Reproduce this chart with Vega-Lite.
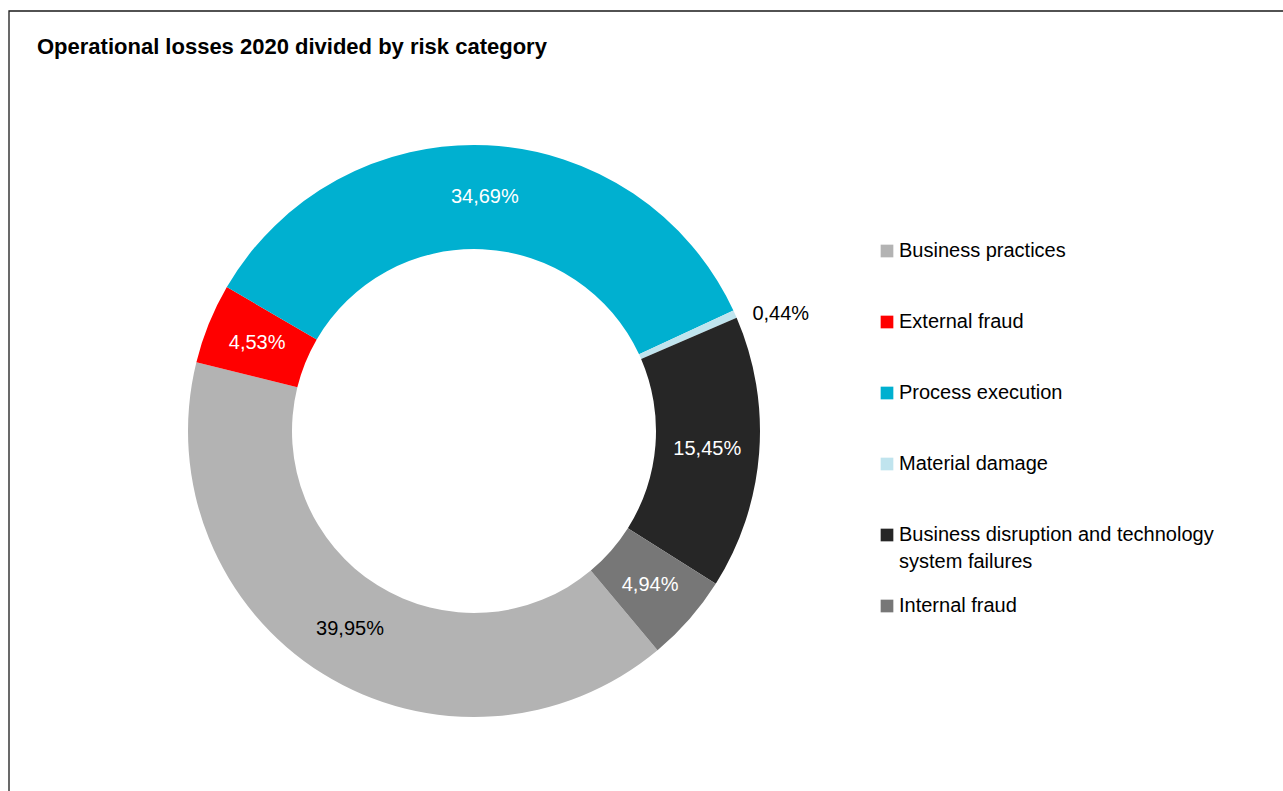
{
  "$schema": "https://vega.github.io/schema/vega-lite/v6.json",
  "width": 1280,
  "height": 800,
  "autosize": {"type": "none"},
  "padding": {"left": 9, "top": 11, "right": 0, "bottom": 0},
  "background": "white",
  "title": {
    "text": "Operational losses 2020 divided by risk category",
    "anchor": "start",
    "frame": "group",
    "font": "Liberation Sans, Arial, sans-serif",
    "fontSize": 22,
    "fontWeight": "bold",
    "color": "#000000",
    "baseline": "middle",
    "offset": -59,
    "dx": 28
  },
  "data": {
    "values": [
      {"category": "Business practices", "share": 39.95, "rank": 1},
      {"category": "External fraud", "share": 4.53, "rank": 2},
      {"category": "Process execution", "share": 34.69, "rank": 3},
      {"category": "Material damage", "share": 0.44, "rank": 4},
      {"category": "Business disruption and technology system failures", "share": 15.45, "rank": 5},
      {"category": "Internal fraud", "share": 4.94, "rank": 6}
    ]
  },
  "layer": [
    {
      "data": {"values": [{"frame": 1}]},
      "mark": {"type": "rect", "x": 0, "y": 0, "x2": 1300, "y2": 900, "fill": null, "stroke": "#1a1a1a", "strokeWidth": 1.3},
      "encoding": {}
    },
    {
      "mark": {"type": "arc", "x": 465, "y": 420, "radius": 286, "radius2": 182, "stroke": null},
      "encoding": {
        "theta": {"field": "share", "type": "quantitative", "stack": true, "scale": {"range": [2.445, 8.728]}},
        "order": {"field": "rank", "type": "quantitative"},
        "color": {
          "field": "category",
          "type": "nominal",
          "sort": null,
          "scale": {
            "domain": ["Business practices", "External fraud", "Process execution", "Material damage", "Business disruption and technology system failures", "Internal fraud"],
            "range": ["#b3b3b3", "#ff0000", "#00b0d0", "#c0e4ee", "#262626", "#777777"]
          },
          "legend": {
            "orient": "none",
            "legendX": 868,
            "legendY": 230,
            "title": null,
            "padding": 0,
            "symbolType": "square",
            "symbolSize": 161,
            "symbolStrokeWidth": 0,
            "labelFont": "Liberation Sans, Arial, sans-serif",
            "labelFontSize": 20,
            "labelColor": "#000000",
            "labelOffset": 2,
            "labelLimit": 500,
            "rowPadding": 24,
            "labelExpr": "datum.label === 'Business disruption and technology system failures' ? ['Business disruption and technology', 'system failures'] : [datum.label, ' ']"
          }
        }
      }
    },
    {
      "transform": [{"calculate": "replace(format(datum.share, '.2f'), '.', ',') + '%'", "as": "label"}],
      "mark": {"type": "text", "x": 465, "y": 420, "radius": 234, "align": "center", "baseline": "middle", "font": "Liberation Sans, Arial, sans-serif", "fontSize": 20},
      "encoding": {
        "theta": {"field": "share", "type": "quantitative", "stack": true, "scale": {"range": [2.445, 8.728]}},
        "order": {"field": "rank", "type": "quantitative"},
        "text": {"condition": {"test": "datum.share >= 1", "field": "label"}, "value": ""},
        "color": {"condition": {"test": "datum.category === 'Business practices'", "value": "#000000"}, "value": "#ffffff"}
      }
    },
    {
      "transform": [{"calculate": "replace(format(datum.share, '.2f'), '.', ',') + '%'", "as": "label"}],
      "mark": {"type": "text", "x": 465, "y": 420, "radius": 305, "align": "left", "baseline": "middle", "dy": 8, "font": "Liberation Sans, Arial, sans-serif", "fontSize": 20, "color": "#000000"},
      "encoding": {
        "theta": {"field": "share", "type": "quantitative", "stack": true, "scale": {"range": [2.445, 8.728]}},
        "order": {"field": "rank", "type": "quantitative"},
        "text": {"condition": {"test": "datum.share < 1", "field": "label"}, "value": ""}
      }
    }
  ],
  "config": {
    "view": {"stroke": null},
    "style": {"guide-label": {"lineHeight": 27}}
  }
}
